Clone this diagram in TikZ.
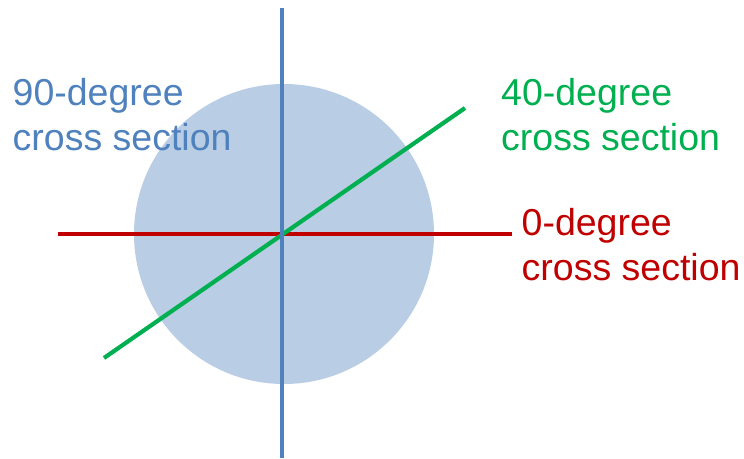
\documentclass[tikz,border=0pt]{standalone}
\usepackage{fontspec}
\setmainfont{Liberation Sans}
\definecolor{cblue}{HTML}{4F81BD}
\definecolor{cfill}{HTML}{B9CDE5}
\definecolor{cred}{HTML}{C00000}
\definecolor{cgreen}{HTML}{00B050}
\begin{document}
\begin{tikzpicture}[x=1pt,y=-1pt,
  lbl/.style={font=\fontsize{37.5}{45}\selectfont, align=left, anchor=base west, inner sep=0pt},
  sect/.style={line width=4.2pt}]
\useasboundingbox (0,0) rectangle (744,458);
\fill[cfill] (284,234) circle (150);
\coordinate (rA) at (58,234);
\coordinate (rB) at (512,234);
\coordinate (gA) at (104,358);
\coordinate (gB) at (465,108);
\coordinate (bA) at (282,8);
\coordinate (bB) at (282,458);
\draw[sect, cred] (rA) -- (rB);
\draw[sect, cgreen] (gA) -- (gB);
\draw[sect, cblue] (bA) -- (bB);
\node[lbl, text=cblue] (l90) at (12.5,150) {90-degree\\cross section};
\node[lbl, text=cgreen] (l40) at (501,150) {40-degree\\cross section};
\node[lbl, text=cred] (l0) at (521.5,280) {0-degree\\cross section};
\end{tikzpicture}
\end{document}
